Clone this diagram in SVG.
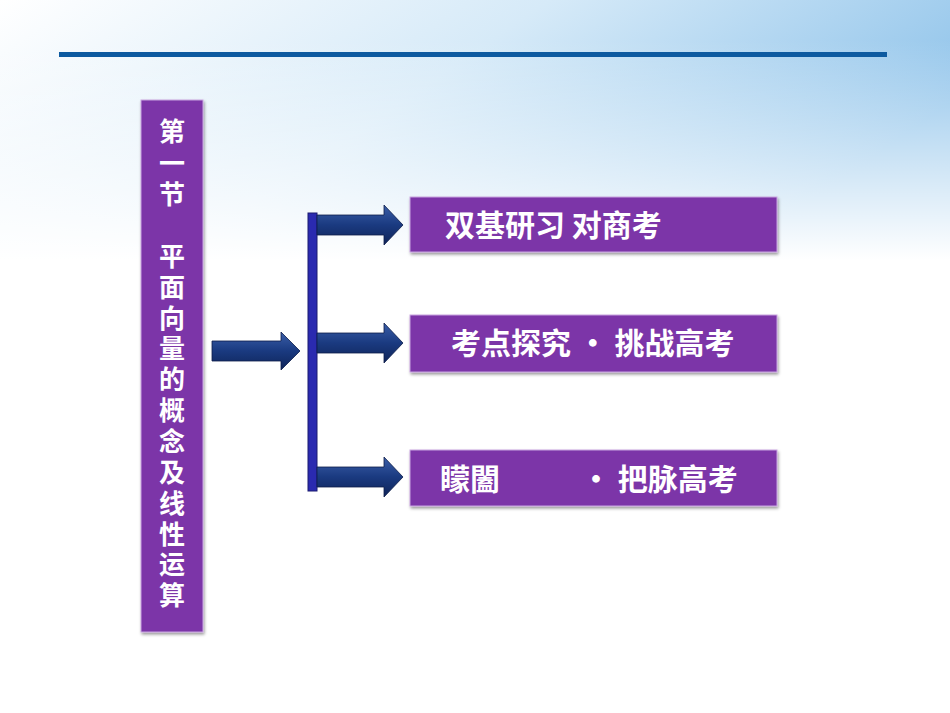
<svg xmlns="http://www.w3.org/2000/svg" width="950" height="713" viewBox="0 0 950 713">
<defs>
<linearGradient id="bg" x1="0" y1="0" x2="1" y2="0.4">
<stop offset="0" stop-color="#ffffff"/><stop offset="0.5" stop-color="#d6eaf8"/><stop offset="1" stop-color="#8fc3ea"/>
</linearGradient>
<linearGradient id="fade" x1="0" y1="0" x2="0" y2="1">
<stop offset="0" stop-color="#fff" stop-opacity="0"/><stop offset="1" stop-color="#fff" stop-opacity="1"/>
</linearGradient>
<linearGradient id="arr" x1="0" y1="0" x2="0" y2="1">
<stop offset="0" stop-color="#3a5ea8"/><stop offset="0.5" stop-color="#1a3a80"/><stop offset="1" stop-color="#0f2458"/>
</linearGradient>
<filter id="sh" x="-10%" y="-10%" width="130%" height="140%"><feDropShadow dx="1" dy="2" stdDeviation="1.5" flood-opacity="0.4"/></filter>
</defs>
<style>
.box{fill:#7b35a8;stroke:#c9a6e0;stroke-width:1;filter:url(#sh)}
.t{font-family:"Noto Sans CJK SC",sans-serif;font-weight:bold;fill:#fff;font-size:30px}
.v{font-size:26px}
.a{fill:url(#arr);stroke:#0c1d4a;stroke-width:0.8}
</style>
<rect width="950" height="713" fill="#fff"/>
<rect width="950" height="260" fill="url(#bg)"/>
<rect y="40" width="950" height="221" fill="url(#fade)"/>
<rect x="59" y="52" width="828" height="5" fill="#0d5aa0"/>
<g id="main"><rect class="box" x="141" y="100" width="62" height="532"/>
<text class="t v" text-anchor="middle"><tspan x="172" y="141">第</tspan><tspan x="172" y="173">一</tspan><tspan x="172" y="204">节</tspan><tspan x="172" y="266">平</tspan><tspan x="172" y="297">面</tspan><tspan x="172" y="328">向</tspan><tspan x="172" y="358">量</tspan><tspan x="172" y="389">的</tspan><tspan x="172" y="420">概</tspan><tspan x="172" y="451">念</tspan><tspan x="172" y="482">及</tspan><tspan x="172" y="513">线</tspan><tspan x="172" y="544">性</tspan><tspan x="172" y="574">运</tspan><tspan x="172" y="605">算</tspan></text></g>
<g id="connectors">
<path class="a" d="M212 341H281V332L300 351L281 370V361H212Z"/>
<rect x="308" y="213" width="9" height="278" fill="#2a2ab0" stroke="#1a1a70"/>
<path class="a" d="M317 215H384V205L403 225L384 245V235H317Z"/>
<path class="a" d="M317 333H384V323L403 343L384 363V353H317Z"/>
<path class="a" d="M317 467H384V457L403 477L384 497V487H317Z"/>
</g>
<g id="n1"><rect class="box" x="410" y="197" width="367" height="55"/><text class="t" x="445" y="236" xml:space="preserve">双基研习 对商考</text></g>
<g id="n2"><rect class="box" x="410" y="315" width="367" height="57"/><text class="t" x="451" y="354" xml:space="preserve">考点探究 · 挑战高考</text></g>
<g id="n3"><rect class="box" x="410" y="450" width="367" height="56"/><text class="t" x="440" y="490">矇闔</text><text class="t" x="581" y="490" xml:space="preserve">· 把脉高考</text></g>
</svg>
